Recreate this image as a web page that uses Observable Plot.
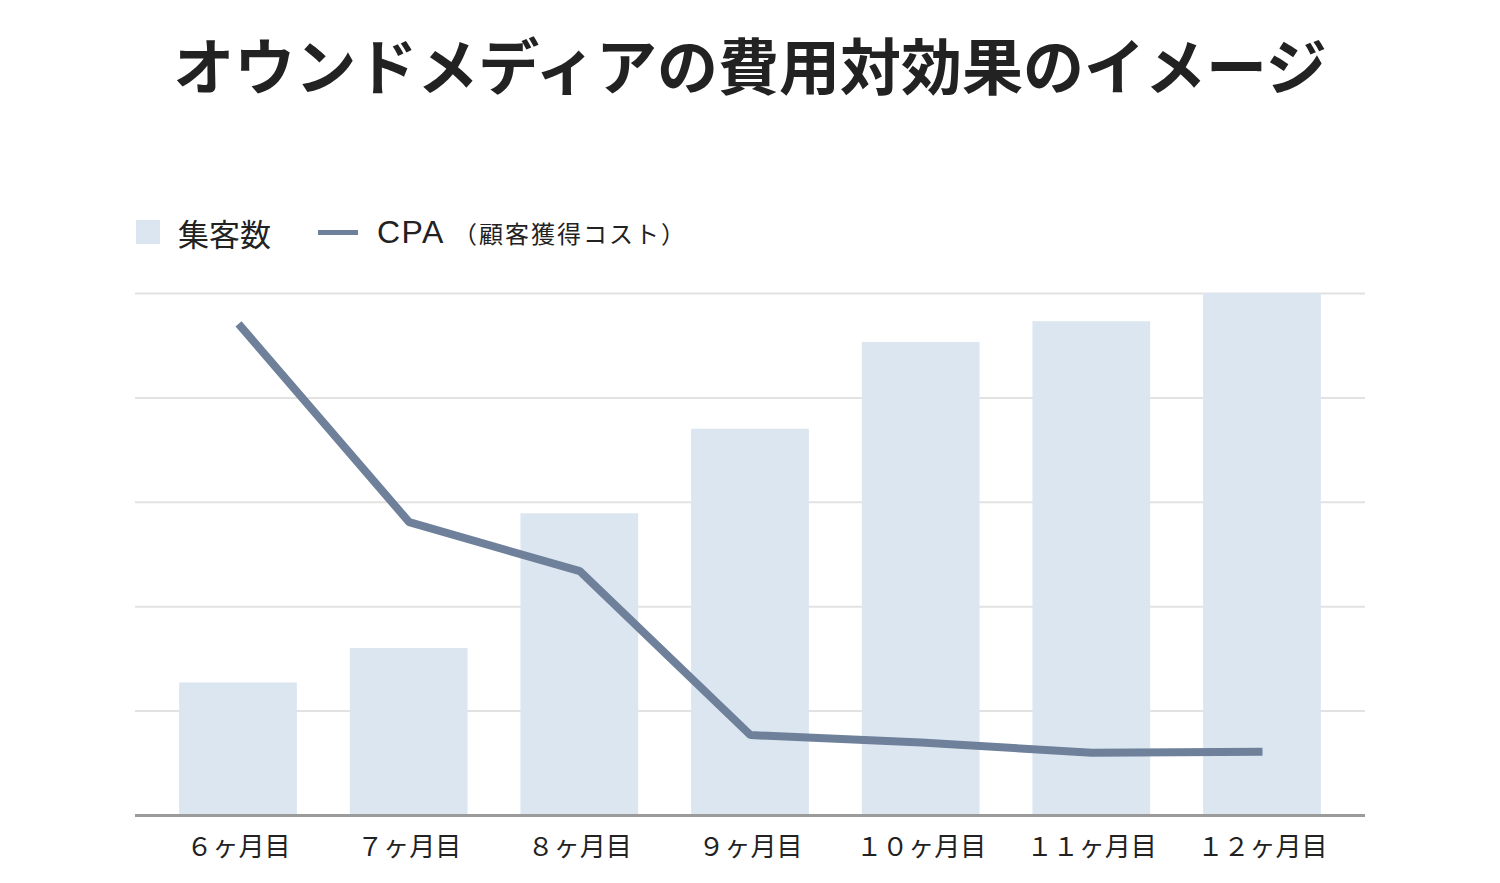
<!DOCTYPE html>
<html><head><meta charset="utf-8">
<script src="https://cdn.jsdelivr.net/npm/d3@7"></script>
<script src="https://cdn.jsdelivr.net/npm/@observablehq/plot@0.6"></script>
<style>
body{margin:0;background:#fff;font-family:"Noto Sans CJK JP","Noto Sans",sans-serif;}
#wrap{position:relative;width:1500px;height:883px;}
#title{position:absolute;left:0;top:22px;width:1500px;text-align:center;font-size:61px;font-weight:700;color:#222;line-height:84px;}
#legend{position:absolute;left:136px;top:208px;height:48px;display:flex;align-items:center;color:#222;}
.sw{width:24px;height:24px;background:#dce6f0;display:inline-block;}
.ln{width:40px;height:5px;background:#6e809a;display:inline-block;}
#chart{position:absolute;left:0;top:260px;}
</style></head>
<body><div id="wrap">
<div id="title">オウンドメディアの費用対効果のイメージ</div>
<div id="legend">
<span class="sw"></span><span style="font-size:31px;margin-left:18px;">集客数</span>
<span class="ln" style="margin-left:47px;"></span><span style="font-size:32px;margin-left:19px;letter-spacing:1.5px;font-family:'Liberation Sans','Noto Sans CJK JP',sans-serif;">CPA</span><span style="font-size:24px;margin-left:8px;letter-spacing:2px;">（顧客獲得コスト）</span>
</div>
<div id="chart"></div>
</div>
<script>
const months = ["６ヶ月目","７ヶ月目","８ヶ月目","９ヶ月目","１０ヶ月目","１１ヶ月目","１２ヶ月目"];
const visitors = [1.27, 1.60, 2.89, 3.70, 4.53, 4.73, 5.0];
const cpa = [4.71, 2.81, 2.34, 0.77, 0.70, 0.60, 0.61];
const gridValues = [1,2,3,4,5];

const data = months.map((m,i)=>({month:m, visitors:visitors[i], cpa:cpa[i]}));

const chart = Plot.plot({
  width:1500, height:623,
  marginLeft:135, marginRight:135, marginTop:33, marginBottom:68,
  style:{fontFamily:'"Noto Sans CJK JP",sans-serif', background:"transparent"},
  x:{type:"band", domain:months, paddingInner:0.31, paddingOuter:0.2585, round:false, label:null},
  y:{domain:[0,5], axis:null},
  marks:[
    Plot.ruleY(gridValues,{stroke:"#e2e2e2", strokeWidth:2}),
    Plot.barY(data,{x:"month", y:"visitors", fill:"#dce6f0"}),
    Plot.ruleY([0],{stroke:"#9b9b9b", strokeWidth:3}),
    Plot.line(data,{x:"month", y:"cpa", stroke:"#6e809a", strokeWidth:8, strokeLinejoin:"miter", strokeLinecap:"butt"}),
    Plot.axisX({tickSize:0, tickPadding:22, fontSize:26, fill:"#222", label:null})
  ]
});
document.getElementById("chart").appendChild(chart);
</script>
</body></html>
